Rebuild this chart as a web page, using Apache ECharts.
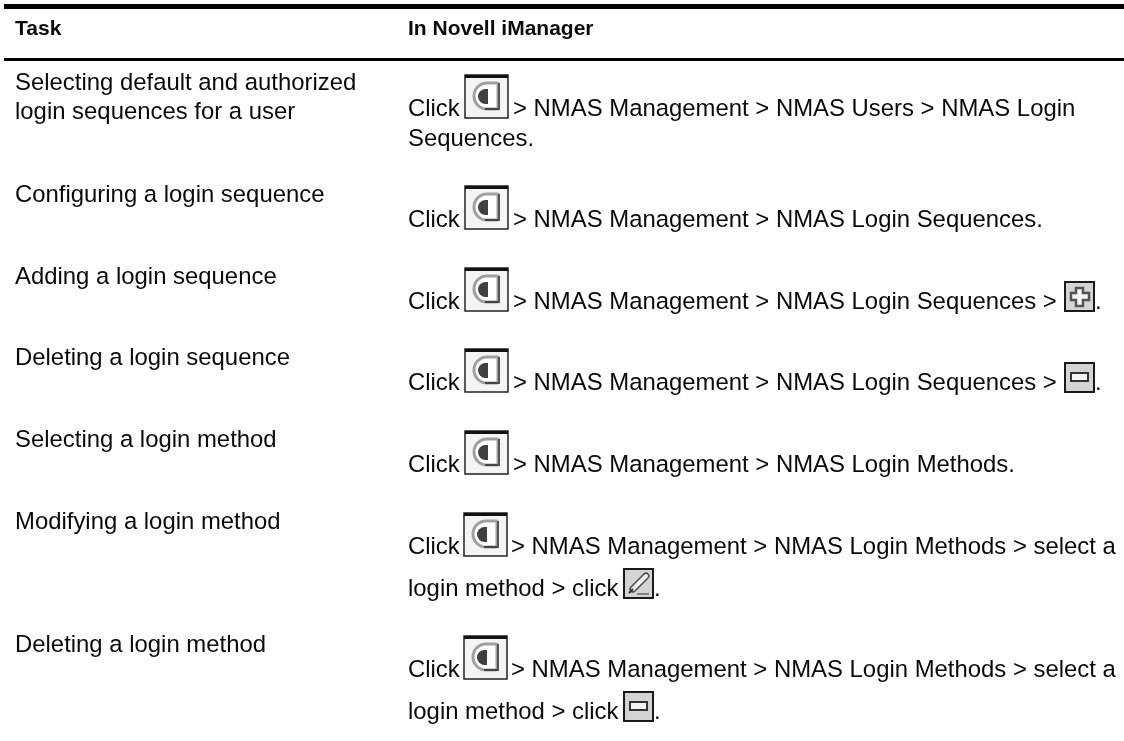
<!DOCTYPE html>
<html>
<head>
    <meta charset="UTF-8">
    <title></title>
    <script src="https://cdn.jsdelivr.net/npm/echarts@6/dist/echarts.min.js"></script>
    <style>
        html, body { margin: 0; padding: 0; background: #fff; }
        #table_chart { width: 1124px; height: 741px; }
    </style>
</head>
<body>
<div id="table_chart"></div>
<script>
var headers = ['Task', 'In Novell iManager'];
var tasks = [
    ['Selecting default and authorized', 'login sequences for a user'],
    ['Configuring a login sequence'],
    ['Adding a login sequence'],
    ['Deleting a login sequence'],
    ['Selecting a login method'],
    ['Modifying a login method'],
    ['Deleting a login method']
];
var firstLines = [
    '> NMAS Management > NMAS Users > NMAS Login',
    '> NMAS Management > NMAS Login Sequences.',
    '> NMAS Management > NMAS Login Sequences >',
    '> NMAS Management > NMAS Login Sequences >',
    '> NMAS Management > NMAS Login Methods.',
    '> NMAS Management > NMAS Login Methods > select a',
    '> NMAS Management > NMAS Login Methods > select a'
];
var secondLines = ['Sequences.', '', '', '', '', 'login method > click', 'login method > click'];
var endIcons = ['', '', 'plus', 'minus', '', 'pencil', 'minus'];

// layout, pixels
var taskX = 15, stepsX = 408;
var taskY = [83, 195, 277, 358, 440, 522, 645];
var stepsY = [109, 220, 302, 383, 465, 547, 670];
var stepGaps = [30, 0, 0, 0, 0, 42, 42];
var afterIconX = [513, 513, 513, 513, 513, 511, 511];
var iconX = [465, 465, 465, 465, 465, 464, 464];
var lineGap = 29;
var font = '"Liberation Sans", Arial, sans-serif';
var fontSize = 23.9, headerSize = 21;

function label(x, y, str, weight) {
    var size = weight === 'bold' ? headerSize : fontSize;
    return {
        type: 'text', x: x, y: y,
        style: { text: str, fill: '#0a0a0a', font: (weight || 'normal') + ' ' + size + 'px ' + font, textVerticalAlign: 'middle' }
    };
}

// the "d" tool icon in front of every step
function toolIcon(x, y) {
    var t = y - 34;
    return [
        { type: 'rect', shape: { x: x, y: t, width: 43, height: 43 }, style: { fill: '#f4f4f4', stroke: '#222', lineWidth: 1.5 } },
        { type: 'rect', shape: { x: x, y: t, width: 43, height: 3 }, style: { fill: '#111' } },
        { type: 'rect', shape: { x: x + 9, y: t + 8, width: 24, height: 26, r: [13, 1, 1, 13] }, style: { fill: '#fff', stroke: '#a0a0a0', lineWidth: 3 } },
        { type: 'rect', shape: { x: x + 20, y: t + 33, width: 14, height: 2 }, style: { fill: '#444' } },
        { type: 'rect', shape: { x: x + 33, y: t + 8, width: 2, height: 27 }, style: { fill: '#555' } },
        { type: 'rect', shape: { x: x + 13, y: t + 14, width: 10, height: 15, r: [8, 0, 0, 8] }, style: { fill: '#404040' } }
    ];
}

function endIcon(kind, x, y) {
    var t = y - 20;
    var els = [
        { type: 'rect', shape: { x: x, y: t, width: 29, height: 29 }, style: { fill: '#d4d4d4', stroke: '#1a1a1a', lineWidth: 2 } }
    ];
    if (kind === 'plus') {
        els.push({ type: 'polygon', shape: { points: [[x + 11, t + 6], [x + 18, t + 6], [x + 18, t + 11], [x + 24, t + 11], [x + 24, t + 18], [x + 18, t + 18], [x + 18, t + 24], [x + 11, t + 24], [x + 11, t + 18], [x + 6, t + 18], [x + 6, t + 11], [x + 11, t + 11]] }, style: { fill: '#f6f6f6', stroke: '#555', lineWidth: 2.5 } });
    } else if (kind === 'minus') {
        els.push({ type: 'rect', shape: { x: x + 6, y: t + 10, width: 17, height: 8 }, style: { fill: '#f4f4f4', stroke: '#333', lineWidth: 2 } });
    } else if (kind === 'pencil') {
        els.push({ type: 'line', shape: { x1: x + 9, y1: t + 20, x2: x + 22, y2: t + 7 }, style: { stroke: '#4a4a4a', lineWidth: 7, lineCap: 'round' } });
        els.push({ type: 'line', shape: { x1: x + 9, y1: t + 20, x2: x + 22, y2: t + 7 }, style: { stroke: '#f0f0f0', lineWidth: 4, lineCap: 'round' } });
        els.push({ type: 'line', shape: { x1: x + 5, y1: t + 24, x2: x + 9, y2: t + 20 }, style: { stroke: '#333', lineWidth: 2 } });
        els.push({ type: 'line', shape: { x1: x + 13, y1: t + 25, x2: x + 25, y2: t + 25 }, style: { stroke: '#666', lineWidth: 1.5 } });
    }
    return els;
}

var elements = [
    { type: 'rect', shape: { x: 4, y: 4, width: 1120, height: 5 }, style: { fill: '#000' } },
    { type: 'rect', shape: { x: 4, y: 58, width: 1120, height: 3 }, style: { fill: '#000' } },
    label(taskX, 29, headers[0], 'bold'),
    label(stepsX, 29, headers[1], 'bold')
];

var firstEndX = [0, 0, 1065, 1065, 0, 0, 0];
var secondEndX = 624;

tasks.forEach(function (lines, i) {
    lines.forEach(function (line, j) {
        elements.push(label(taskX, taskY[i] + j * lineGap, line));
    });
    elements.push(label(stepsX, stepsY[i], 'Click'));
    elements = elements.concat(toolIcon(iconX[i], stepsY[i]));
    elements.push(label(afterIconX[i], stepsY[i], firstLines[i]));
    if (secondLines[i]) {
        elements.push(label(stepsX, stepsY[i] + stepGaps[i], secondLines[i]));
    }
    if (endIcons[i]) {
        var second = !!secondLines[i];
        var ix = second ? secondEndX : firstEndX[i];
        var iy = stepsY[i] + stepGaps[i];
        elements = elements.concat(endIcon(endIcons[i], ix, iy));
        elements.push(label(ix + 30, iy, '.'));
    }
});

var myChart = echarts.init(document.getElementById('table_chart'));
myChart.setOption({
    animation: false,
    backgroundColor: '#fff',
    graphic: { elements: elements }
});
</script>
</body>
</html>
